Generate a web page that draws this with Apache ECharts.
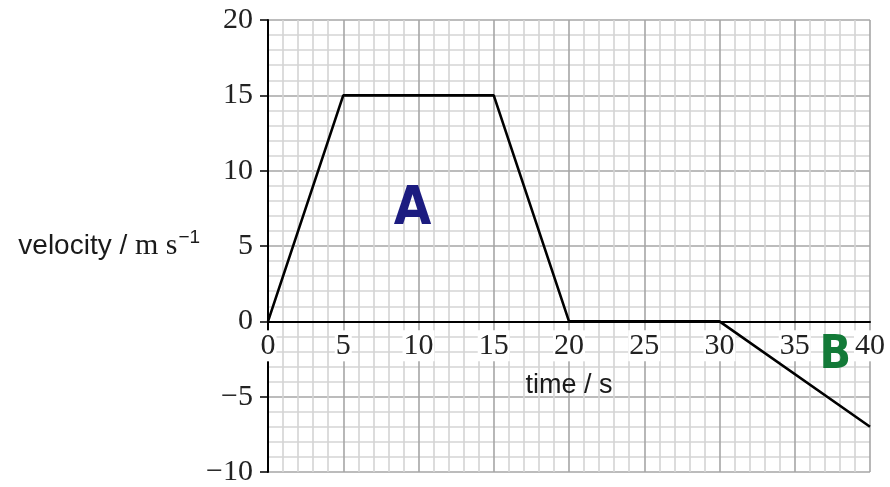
<!DOCTYPE html>
<html>
<head>
<meta charset="utf-8">
<script src="https://cdn.jsdelivr.net/npm/echarts@6/dist/echarts.min.js"></script>
<style>html,body{margin:0;padding:0;background:#fff;}#c{width:890px;height:487px;}</style>
</head>
<body>
<div id="c"></div>
<script>
const times = [0, 5, 15, 20, 30, 40];
const velocities = [0, 15, 15, 0, 0, -7];
const xRange = [0, 40];
const yRange = [-10, 20];
const tickStep = 5;
const annotations = [
  { text: 'A', x: 9.6, y: 7.4, color: '#1c1c80', size: 54 },
  { text: 'B', x: 37.7, y: -2.3, color: '#137a38', size: 46 }
];
const xAxisTitle = 'time / s';

const chart = echarts.init(document.getElementById('c'));
const serif = 'Liberation Serif';
const sans = 'Liberation Sans';
const minus = v => (v < 0 ? '\u2212' + Math.abs(v) : String(v));
const gridTop = 20, gridHeight = 452;
// shift x axis (line + labels) up to the y = 0 level
const zeroOffset = -gridHeight * (0 - yRange[0]) / (yRange[1] - yRange[0]);

chart.setOption({
  animation: false,
  backgroundColor: '#fff',
  grid: { left: 268, top: gridTop, width: 602, height: gridHeight, containLabel: false, outerBoundsMode: 'none' },
  xAxis: {
    type: 'value', min: xRange[0], max: xRange[1], interval: tickStep,
    offset: zeroOffset, z: 3,
    name: xAxisTitle, nameLocation: 'middle', nameGap: 51,
    nameTextStyle: { fontFamily: sans, fontSize: 27, color: '#1a1a1a' },
    axisLine: { onZero: false, lineStyle: { color: '#000', width: 2 } },
    axisTick: { show: false },
    minorTick: { show: false, splitNumber: 5 },
    axisLabel: {
      margin: 9, fontFamily: serif, fontSize: 30, color: '#222', formatter: minus,
      backgroundColor: '#fff', padding: [1, 1, 0, 1]
    },
    splitLine: { show: true, showMinLine: false, lineStyle: { color: '#a6a6a6', width: 1.6 } },
    minorSplitLine: { show: true, lineStyle: { color: '#d4d4d4', width: 1.6 } }
  },
  yAxis: {
    type: 'value', min: yRange[0], max: yRange[1], interval: tickStep, z: 2,
    name: '{a|velocity / }{b|m s}{c|\u22121}', nameLocation: 'middle', nameRotate: 0, nameGap: 52,
    nameTextStyle: {
      rich: {
        a: { fontFamily: sans, fontSize: 28, color: '#1a1a1a' },
        b: { fontFamily: serif, fontSize: 30, color: '#1a1a1a' },
        c: { fontFamily: sans, fontSize: 19, color: '#1a1a1a', padding: [0, 0, 17, 1] }
      }
    },
    axisLine: { show: true, onZero: false, lineStyle: { color: '#000', width: 2 } },
    axisTick: { show: true, length: 8, lineStyle: { color: '#000', width: 1.5 } },
    minorTick: { show: false, splitNumber: 5 },
    axisLabel: { margin: 15, fontFamily: serif, fontSize: 30, color: '#222', formatter: minus },
    splitLine: { show: true, lineStyle: { color: '#a6a6a6', width: 1.6 } },
    minorSplitLine: { show: true, lineStyle: { color: '#d4d4d4', width: 1.6 } }
  },
  series: [
    {
      type: 'line',
      data: times.map((t, i) => [t, velocities[i]]),
      symbol: 'none',
      lineStyle: { color: '#000', width: 2.6 },
      z: 5
    },
    {
      type: 'scatter',
      symbolSize: 0,
      itemStyle: { opacity: 1 },
      data: annotations.map(a => ({
        value: [a.x, a.y],
        label: {
          show: true, position: 'inside', formatter: a.text,
          fontFamily: 'DejaVu Sans Condensed', fontWeight: 'bold', fontSize: a.size, color: a.color
        }
      })),
      z: 6
    }
  ]
});
</script>
</body>
</html>
